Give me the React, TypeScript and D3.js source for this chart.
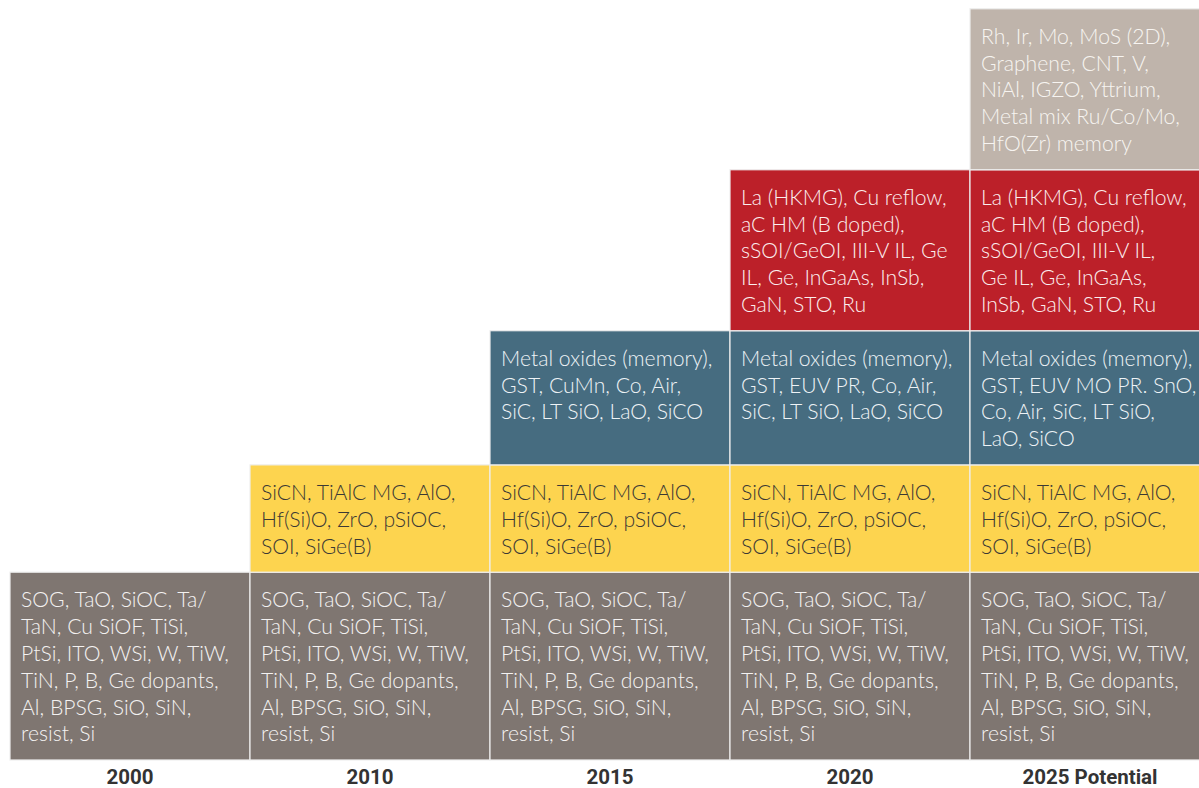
import React from "react";
import * as d3 from "d3";

// columns (years) and stacked tiers, bottom to top
const years = ["2000", "2010", "2015", "2020", "2025 Potential"];
const tiers = ["base", "highK", "oxide", "channel", "future"];

// text of every cell, line by line as wrapped in the original
const baseMaterials = [
  "SOG, TaO, SiOC, Ta/",
  "TaN, Cu SiOF, TiSi,",
  "PtSi, ITO, WSi, W, TiW,",
  "TiN, P, B, Ge dopants,",
  "Al, BPSG, SiO, SiN,",
  "resist, Si",
];
const highKMaterials = [
  "SiCN, TiAlC MG, AlO,",
  "Hf(Si)O, ZrO, pSiOC,",
  "SOI, SiGe(B)",
];
const oxide2015 = [
  "Metal oxides (memory),",
  "GST, CuMn, Co, Air,",
  "SiC, LT SiO, LaO, SiCO",
];
const oxide2020 = [
  "Metal oxides (memory),",
  "GST, EUV PR, Co, Air,",
  "SiC, LT SiO, LaO, SiCO",
];
const oxide2025 = [
  "Metal oxides (memory),",
  "GST, EUV MO PR. SnO,",
  "Co, Air, SiC, LT SiO,",
  "LaO, SiCO",
];
const channel2020 = [
  "La (HKMG), Cu reflow,",
  "aC HM (B doped),",
  "sSOI/GeOI, III-V IL, Ge",
  "IL, Ge, InGaAs, InSb,",
  "GaN, STO, Ru",
];
const channel2025 = [
  "La (HKMG), Cu reflow,",
  "aC HM (B doped),",
  "sSOI/GeOI, III-V IL,",
  "Ge IL, Ge, InGaAs,",
  "InSb, GaN, STO, Ru",
];
const future2025 = [
  "Rh, Ir, Mo, MoS (2D),",
  "Graphene, CNT, V,",
  "NiAl, IGZO, Yttrium,",
  "Metal mix Ru/Co/Mo,",
  "HfO(Zr) memory",
];

const cellText: Record<string, Record<string, string[]>> = {
  base: { "2000": baseMaterials, "2010": baseMaterials, "2015": baseMaterials, "2020": baseMaterials, "2025 Potential": baseMaterials },
  highK: { "2010": highKMaterials, "2015": highKMaterials, "2020": highKMaterials, "2025 Potential": highKMaterials },
  oxide: { "2015": oxide2015, "2020": oxide2020, "2025 Potential": oxide2025 },
  channel: { "2020": channel2020, "2025 Potential": channel2025 },
  future: { "2025 Potential": future2025 },
};

const tierFill: Record<string, string> = {
  base: "#7f7671",
  highK: "#fdd44f",
  oxide: "#466c80",
  channel: "#bc2029",
  future: "#bfb4ab",
};
const tierInk: Record<string, string> = {
  base: "#f4f2f1",
  highK: "#3b3935",
  oxide: "#eef3f6",
  channel: "#fbeeee",
  future: "#f7f4f1",
};

const W = 1199;
const H = 788;
const LINE = 26.83;

export default function App() {
  const x = d3.scaleBand<string>().domain(years).range([10, 1210]).paddingInner(0);

  // each tier is as tall as its longest cell plus one line of padding
  const units = tiers.map((t) => d3.max(Object.values(cellText[t]), (l) => l.length)! + 1);
  const cum = d3.cumsum(units);
  const y = d3.scaleLinear().domain([0, d3.sum(units)]).range([760, 760 - d3.sum(units) * LINE]);

  const cells = tiers.flatMap((t, i) =>
    Object.entries(cellText[t]).map(([year, lines]) => ({
      tier: t,
      year,
      lines,
      y0: y(cum[i]),
      y1: y(cum[i] - units[i]),
    }))
  );

  return (
    <svg width={W} height={H} style={{ position: "absolute", left: 0, top: 0, background: "#fff" }}>
      {cells.map((c) => (
        <g key={c.tier + c.year}>
          <rect
            x={x(c.year)!}
            y={c.y0}
            width={x.bandwidth()}
            height={c.y1 - c.y0}
            fill={tierFill[c.tier]}
            stroke="#eeeeee"
            strokeWidth={1.2}
          />
          <text
            fontFamily="Lato, 'Open Sans', sans-serif"
            fontWeight={300}
            fontSize={21.2}
            fill={tierInk[c.tier]}
          >
            {c.lines.map((ln, k) => (
              <tspan key={k} x={x(c.year)! + 11} y={c.y0 + 35 + k * LINE}>
                {ln}
              </tspan>
            ))}
          </text>
        </g>
      ))}
      {years.map((yr) => (
        <text
          key={yr}
          x={x(yr)! + x.bandwidth() / 2}
          y={784}
          textAnchor="middle"
          fontFamily="Roboto, 'Liberation Sans', sans-serif"
          fontWeight={700}
          fontSize={20.5}
          fill="#333"
        >
          {yr}
        </text>
      ))}
    </svg>
  );
}
